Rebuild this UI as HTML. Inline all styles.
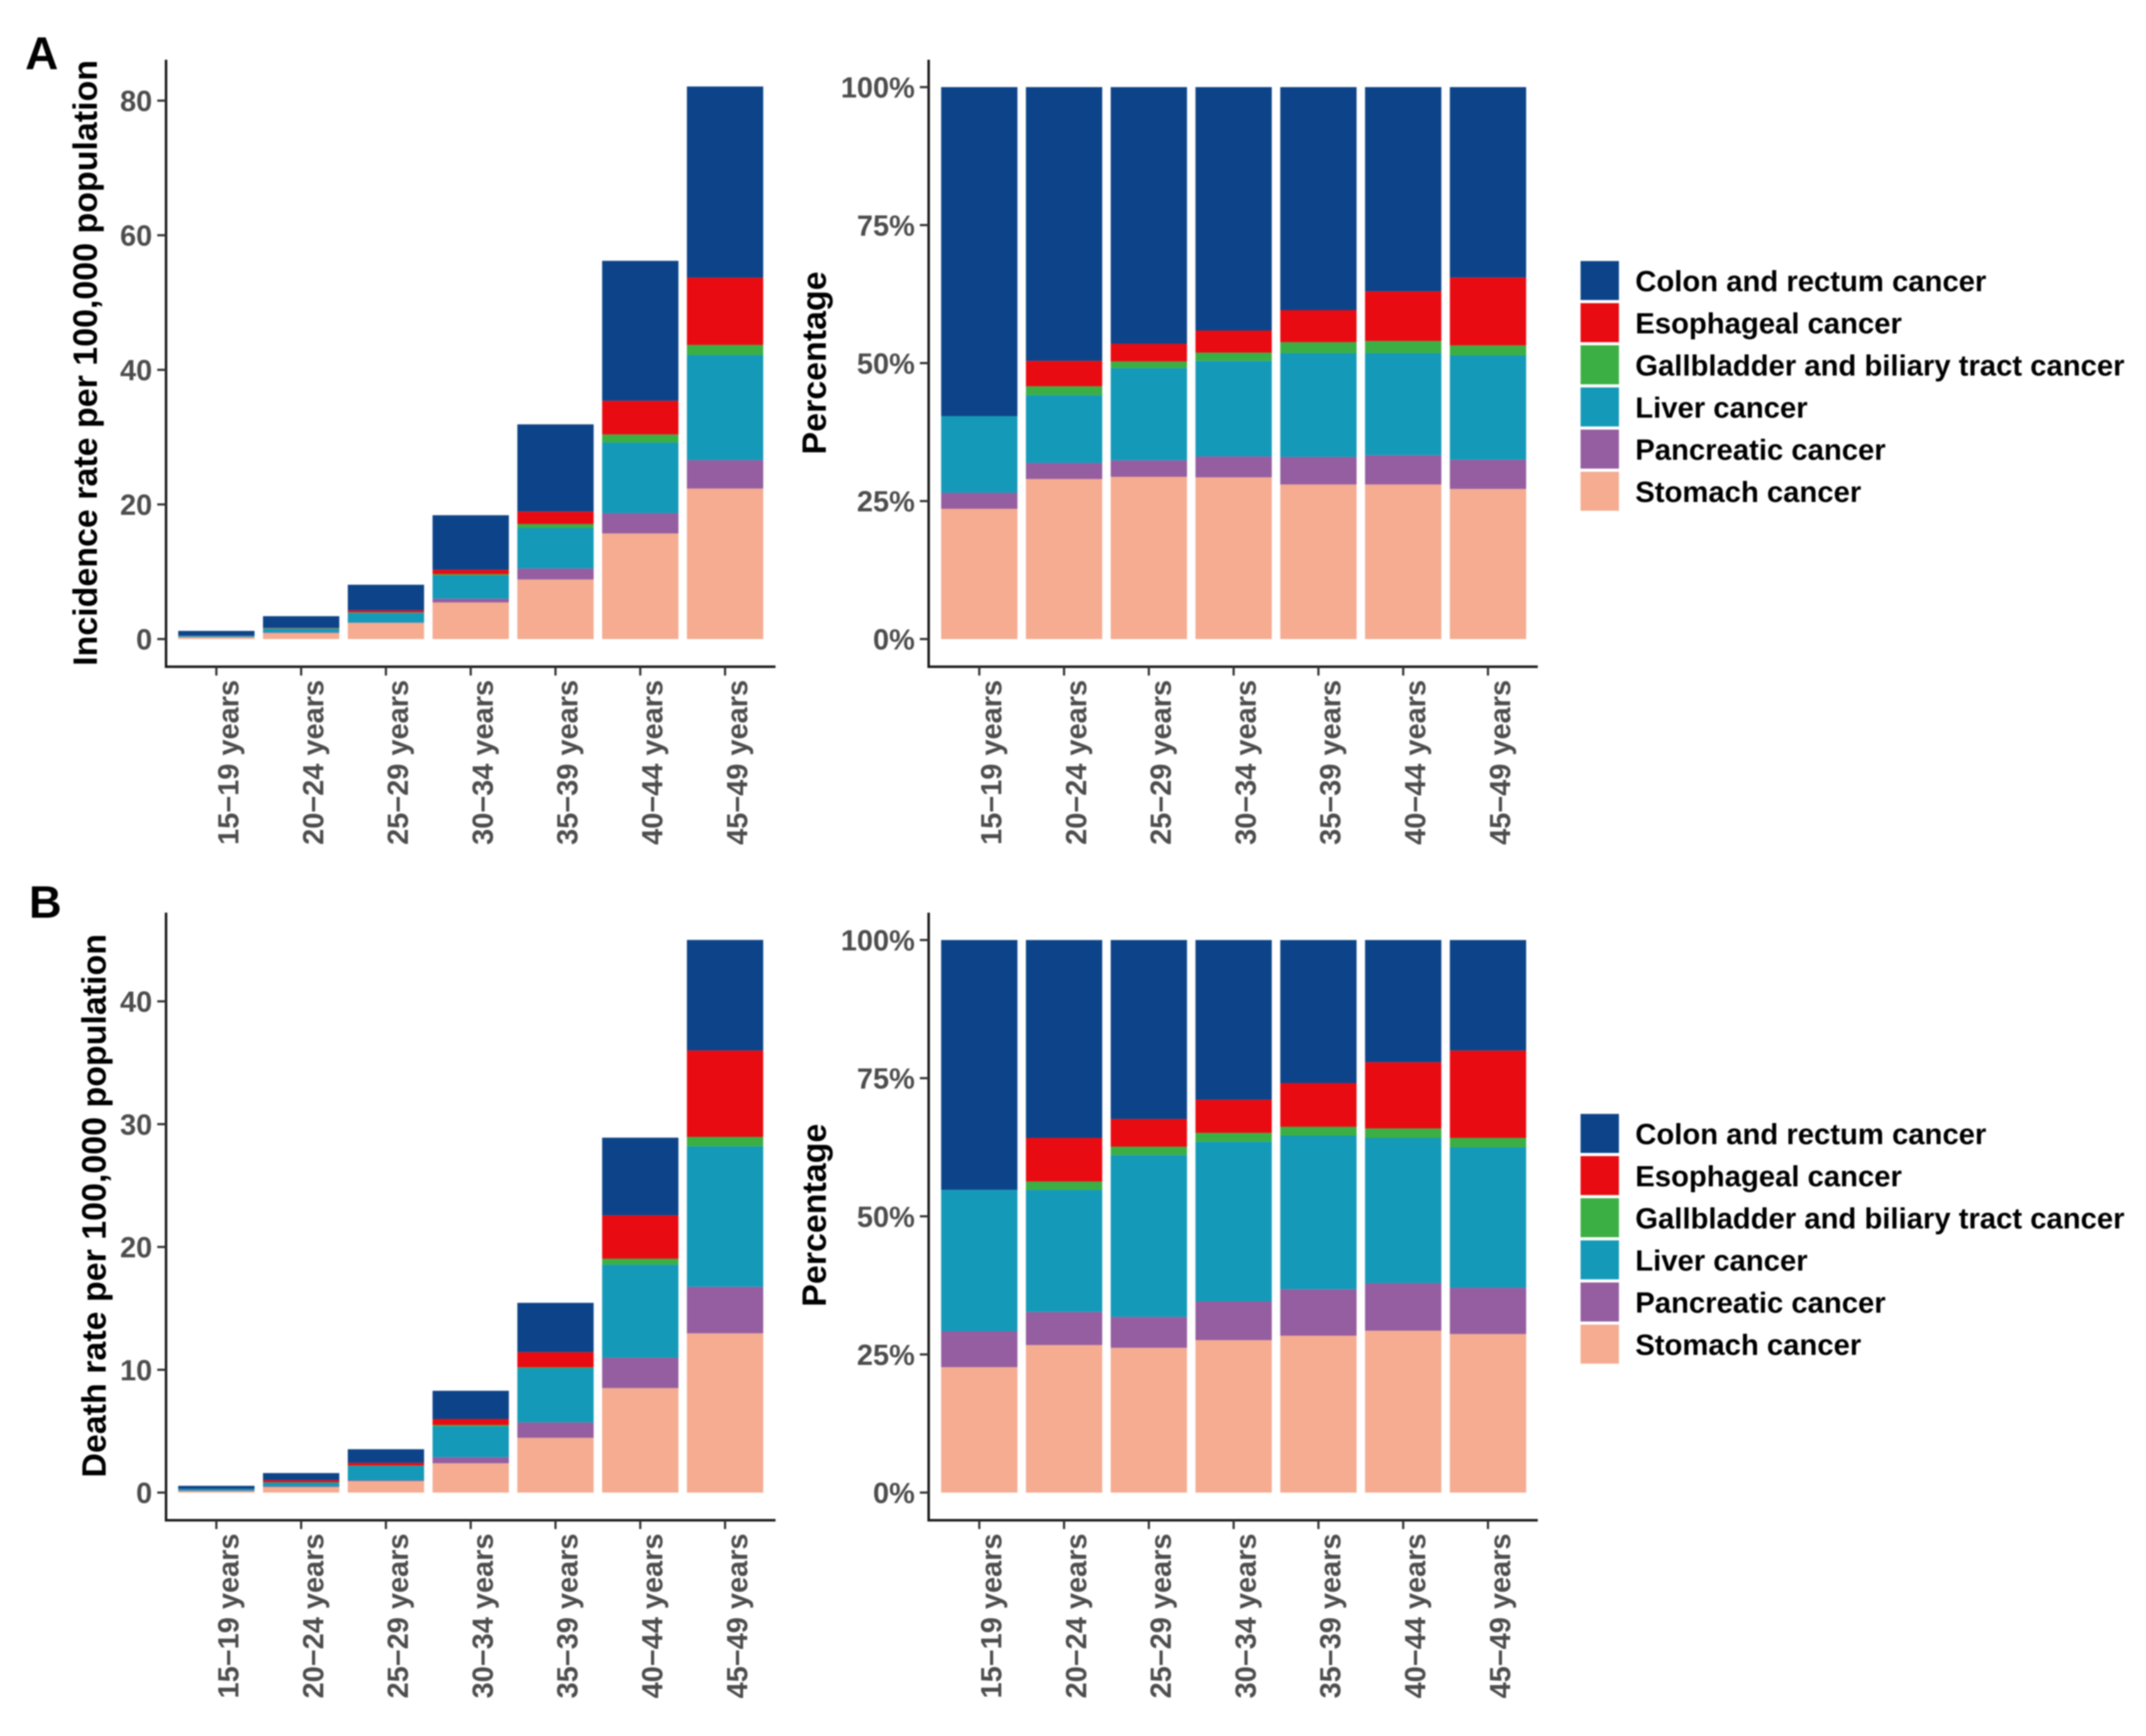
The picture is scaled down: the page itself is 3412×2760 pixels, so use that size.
<!DOCTYPE html>
<html lang="en">
<head>
<meta charset="utf-8">
<title>Cancer incidence and death rates by age group</title>
<style>
  html, body { margin: 0; padding: 0; background: #fff; }
  svg { display: block; font-family: "Liberation Sans", Arial, sans-serif; font-weight: bold; filter: blur(1px); }
</style>
</head>
<body>
<svg id="chart" xmlns="http://www.w3.org/2000/svg" width="3412" height="2760" viewBox="0 0 3412 2760">
  <rect x="0" y="0" width="3412" height="2760" fill="#ffffff"></rect>
  <text x="40" y="110" font-size="73" fill="#000">A</text>
  <text x="46" y="1459" font-size="72" fill="#000">B</text>
</svg>
<script>
// ---- categories and labels ----
const categories = ["15−19 years", "20−24 years", "25−29 years", "30−34 years", "35−39 years", "40−44 years", "45−49 years"];
const seriesNames = ["Stomach cancer", "Pancreatic cancer", "Liver cancer", "Gallbladder and biliary tract cancer", "Esophageal cancer", "Colon and rectum cancer"];
const legendOrder = ["Colon and rectum cancer", "Esophageal cancer", "Gallbladder and biliary tract cancer", "Liver cancer", "Pancreatic cancer", "Stomach cancer"];
const incidenceTicks = [0, 20, 40, 60, 80];
const deathTicks = [0, 10, 20, 30, 40];
const percentTicks = [0, 25, 50, 75, 100];

// ---- A: incidence rate per 100,000 ----
const incidenceStomach    = [0.28, 0.90, 2.40, 5.44, 8.85, 15.7, 22.36];
const incidencePancreatic = [0.04, 0.10, 0.06, 0.56, 1.65, 3.0, 4.24];
const incidenceLiver      = [0.17, 0.56, 1.44, 3.44, 6.0, 10.5, 15.6];
const incidenceGallbladder = [0.01, 0.06, 0.06, 0.20, 0.6, 1.2, 1.5];
const incidenceEsophageal = [0.01, 0.06, 0.31, 0.66, 1.85, 5.0, 10.0];
const incidenceColon      = [0.70, 1.72, 3.80, 8.10, 12.95, 20.8, 28.4];

// ---- A: percentage ----
const incidencePctStomach    = [23.6, 29.0, 29.4, 29.3, 28.0, 28.0, 27.2];
const incidencePctPancreatic = [2.9, 2.9, 3.0, 3.8, 5.0, 5.3, 5.3];
const incidencePctLiver      = [13.9, 12.3, 16.7, 17.3, 18.8, 18.5, 18.9];
const incidencePctGallbladder = [0, 1.6, 1.2, 1.5, 2.0, 2.2, 1.8];
const incidencePctEsophageal = [0, 4.6, 3.2, 4.0, 5.8, 9.0, 12.3];
const incidencePctColon      = [59.6, 49.6, 46.5, 44.1, 40.4, 37.0, 34.5];

// ---- B: death rate per 100,000 ----
const deathStomach    = [0.12, 0.46, 0.94, 2.39, 4.46, 8.51, 12.97];
const deathPancreatic = [0.04, 0.05, 0.06, 0.49, 1.26, 2.48, 3.79];
const deathLiver      = [0.14, 0.31, 1.18, 2.52, 4.42, 7.57, 11.44];
const deathGallbladder = [0, 0.02, 0.02, 0.10, 0.06, 0.49, 0.76];
const deathEsophageal = [0, 0.18, 0.22, 0.49, 1.24, 3.52, 7.04];
const deathColon      = [0.25, 0.57, 1.11, 2.30, 4.01, 6.33, 9.0];

// ---- B: percentage ----
const deathPctStomach    = [22.7, 26.7, 26.2, 27.6, 28.4, 29.3, 28.7];
const deathPctPancreatic = [6.5, 6.0, 5.6, 7.0, 8.4, 8.6, 8.4];
const deathPctLiver      = [25.6, 22.1, 29.3, 28.9, 27.8, 26.3, 25.4];
const deathPctGallbladder = [0, 1.5, 1.5, 1.6, 1.6, 1.7, 1.7];
const deathPctEsophageal = [0, 7.9, 5.0, 6.0, 7.9, 12.0, 15.8];
const deathPctColon      = [45.2, 35.8, 32.4, 28.9, 25.9, 22.1, 20.0];

// ---- drawing ----
const seriesColors = {
  "Stomach cancer": "#F5AC91",
  "Pancreatic cancer": "#945EA0",
  "Liver cancer": "#149AB8",
  "Gallbladder and biliary tract cancer": "#3CAF44",
  "Esophageal cancer": "#E90B12",
  "Colon and rectum cancer": "#0D4489"
};
const NS = "http://www.w3.org/2000/svg";
const root = document.getElementById("chart");

function slug(s) {
  return s.toLowerCase().replace(/[^a-z0-9]+/g, "-").replace(/^-|-$/g, "");
}
function make(tag, parent, attrs, text) {
  const el = document.createElementNS(NS, tag);
  for (const k in attrs) el.setAttribute(k, attrs[k]);
  if (text !== undefined) el.textContent = text;
  parent.appendChild(el);
  return el;
}

function drawPanel(p) {
  const xPos = i => p.firstTickX + i * p.step;
  const yPos = v => p.zeroY - (v / p.domainMax) * (p.zeroY - p.maxY);
  const barW = p.step * 0.9;

  const g = make("g", root, {});
  
  

  // stacked bars
  categories.forEach((cat, i) => {
    let running = 0;
    p.series.forEach((values, s) => {
      const v = values[i];
      const top = yPos(running + v);
      const bottom = yPos(running);
      running += v;
      if (v <= 0) return;
      const r = make("rect", g, {
        x: xPos(i) - barW / 2,
        y: top,
        width: barW,
        height: bottom - top,
        fill: seriesColors[seriesNames[s]]
      });
      
      
    });
  });

  // axis lines
  const yAxis = make("line", g, { x1: p.axisLeft, x2: p.axisLeft, y1: p.axisTop, y2: p.axisBottom + 2, stroke: "#1a1a1a", "stroke-width": 4 });
  
  
  const xAxis = make("line", g, { x1: p.axisLeft - 2, x2: p.axisRight, y1: p.axisBottom, y2: p.axisBottom, stroke: "#1a1a1a", "stroke-width": 4 });
  
  

  // y ticks
  p.ticks.forEach(t => {
    const y = yPos(t);
    const tick = make("line", g, { x1: p.axisLeft - 14, x2: p.axisLeft, y1: y, y2: y, stroke: "#333", "stroke-width": 3.5 });
    
    
    const label = make("text", g, {
      x: p.axisLeft - 22, y: y + 16.5, "text-anchor": "end", "font-size": 46, fill: "#4d4d4d"
    }, t + p.tickSuffix);
    
    
  });

  // x ticks
  categories.forEach((cat, i) => {
    const x = xPos(i);
    const tick = make("line", g, { x1: x, x2: x, y1: p.axisBottom, y2: p.axisBottom + 14, stroke: "#333", "stroke-width": 3.5 });
    
    
    const bx = x + 35, by = p.axisBottom + 21;
    const label = make("text", g, {
      x: bx, y: by, "text-anchor": "end", "font-size": 46, fill: "#4d4d4d",
      transform: "rotate(-90 " + bx + " " + by + ")"
    }, cat);
    
    
  });

  // y axis title
  const title = make("text", g, {
    x: p.titleX, y: p.titleY, "text-anchor": "middle", "font-size": 54, fill: "#000",
    transform: "rotate(-90 " + p.titleX + " " + p.titleY + ")"
  }, p.title);
  
  
}

function drawLegend(name, top) {
  const g = make("g", root, {});
  
  
  legendOrder.forEach((label, i) => {
    const y = top + i * 67;
    const sw = make("rect", g, { x: 2513, y: y, width: 61, height: 62, fill: seriesColors[label] });
    
    
    const t = make("text", g, { x: 2600, y: y + 48, "font-size": 46.5, fill: "#000" }, label);
    
    
  });
}

drawPanel({
  name: "incidence-rate-chart", title: "Incidence rate per 100,000 population",
  series: [incidenceStomach, incidencePancreatic, incidenceLiver, incidenceGallbladder, incidenceEsophageal, incidenceColon],
  ticks: incidenceTicks, tickSuffix: "", domainMax: 80,
  firstTickX: 344, step: 134.8, axisLeft: 264, axisRight: 1233, axisTop: 95, axisBottom: 1060,
  zeroY: 1016, maxY: 160, titleX: 154, titleY: 577
});
drawPanel({
  name: "incidence-percentage-chart", title: "Percentage",
  series: [incidencePctStomach, incidencePctPancreatic, incidencePctLiver, incidencePctGallbladder, incidencePctEsophageal, incidencePctColon],
  ticks: percentTicks, tickSuffix: "%", domainMax: 100,
  firstTickX: 1557, step: 134.8, axisLeft: 1476.5, axisRight: 2445, axisTop: 95, axisBottom: 1060,
  zeroY: 1016, maxY: 138.5, titleX: 1313, titleY: 577
});
drawPanel({
  name: "death-rate-chart", title: "Death rate per 100,000 population",
  series: [deathStomach, deathPancreatic, deathLiver, deathGallbladder, deathEsophageal, deathColon],
  ticks: deathTicks, tickSuffix: "", domainMax: 40,
  firstTickX: 344, step: 134.8, axisLeft: 264, axisRight: 1233, axisTop: 1451, axisBottom: 2417,
  zeroY: 2373, maxY: 1592, titleX: 168, titleY: 1917
});
drawPanel({
  name: "death-percentage-chart", title: "Percentage",
  series: [deathPctStomach, deathPctPancreatic, deathPctLiver, deathPctGallbladder, deathPctEsophageal, deathPctColon],
  ticks: percentTicks, tickSuffix: "%", domainMax: 100,
  firstTickX: 1557, step: 134.8, axisLeft: 1476.5, axisRight: 2445, axisTop: 1451, axisBottom: 2417,
  zeroY: 2373, maxY: 1494.5, titleX: 1313, titleY: 1932
});
drawLegend("legend-incidence", 415);
drawLegend("legend-death", 1771);
</script>
</body>
</html>
